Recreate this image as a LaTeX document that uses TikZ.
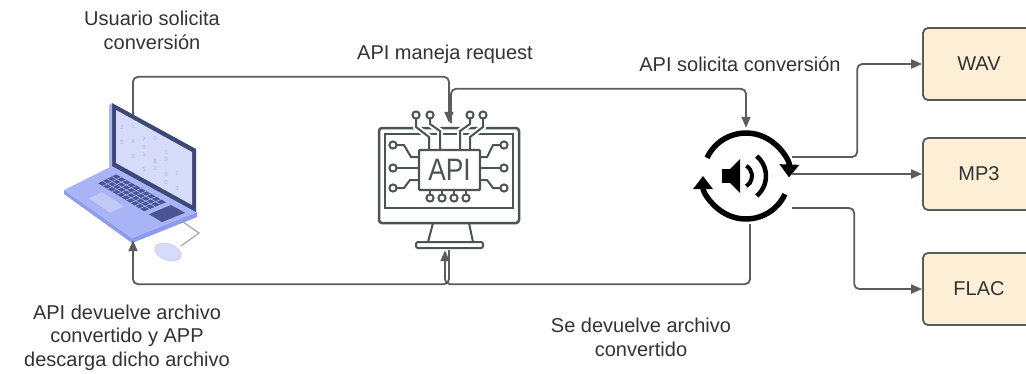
\documentclass[tikz,border=0pt]{standalone}
\usepackage{fontspec}
\setmainfont{Liberation Sans}
\usetikzlibrary{arrows.meta,calc}
\definecolor{ink}{HTML}{333333}
\definecolor{wire}{HTML}{5C5C5C}
\definecolor{boxfill}{HTML}{FCEFD5}
\definecolor{boxedge}{HTML}{5A5A5A}
\definecolor{slate}{HTML}{4B5353}
\definecolor{lid}{HTML}{3C4878}
\definecolor{screen}{HTML}{D5DBF8}
\definecolor{deck}{HTML}{A8B4F6}
\definecolor{deckside}{HTML}{8E9BEA}
\definecolor{keys}{HTML}{4A5593}
\definecolor{digit}{HTML}{A9B5EF}
\begin{document}
\begin{tikzpicture}[x=1pt,y=-1pt,
  conn/.style={draw=wire,line width=1.8pt,rounded corners=5pt,-{Triangle[length=11pt,width=9pt]}},
  label/.style={text=ink,font=\fontsize{20}{23.5}\selectfont,align=center,inner sep=0pt},
  fmtbox/.style={draw=boxedge,line width=1.8pt,fill=boxfill,rounded corners=5pt,
    minimum width=112pt,minimum height=72pt,font=\fontsize{20}{24}\selectfont,text=ink,inner sep=0pt},
  icon/.style={inner sep=0pt,draw=none},
  trace/.style={draw=slate,line width=2pt},
  halo/.style={draw=white,line width=6pt},
]
\useasboundingbox (0,0) rectangle (1026,373);
\clip (0,0) rectangle (1026,373);
\fill[white] (0,0) rectangle (1026,373);

% ---------- laptop ----------
\node[icon,minimum width=140pt,minimum height=125pt] (laptop) at (133,177.5) {};
\fill[deckside] (64,190) -- (132,238) -- (197,212) -- (197,217) -- (132,243) -- (64,194) -- cycle;
\fill[deck] (112,166) -- (197,212) -- (132,238) -- (64,190) -- cycle;
\fill[lid] (112,103) -- (196,149) -- (196,212) -- (112,166) -- cycle;
\fill[deck] (109,105) -- (112,103) -- (112,166) -- (109,168) -- cycle;
\fill[screen] (116,110) -- (192,152) -- (192,205) -- (116,163) -- cycle;
\coordinate (K1) at (116.2,174.4);
\coordinate (K2) at (166,202.2);
\coordinate (K3) at (144.3,211.3);
\coordinate (K4) at (98.2,183.2);
\fill[keys] (K1) -- (K2) -- (K3) -- (K4) -- cycle;
\foreach \f in {0.1,0.2,0.3,0.4,0.5,0.6,0.7,0.8,0.9}
  \draw[deck,line width=0.6pt] ($(K1)!\f!(K2)$) -- ($(K4)!\f!(K3)$);
\foreach \g in {0.25,0.5,0.75}
  \draw[deck,line width=0.6pt] ($(K1)!\g!(K4)$) -- ($(K2)!\g!(K3)$);
\fill[keys] (171,205) -- (185,212.8) -- (162,222.1) -- (148.9,214.2) -- cycle;
\fill[screen!55!deck] (101.9,192.2) -- (124.3,206.4) -- (110,212.6) -- (88.8,198.3) -- cycle;
% digits on the screen
\foreach \i/\j/\d in {0/1/1,0/3/0,1/0/2,1/2/7,1/4/1,2/1/9,2/2/0,2/4/3,3/0/5,3/2/1,3/3/8,3/5/7,4/1/0,4/3/2,4/4/9,5/2/1,5/4/0,5/5/3}
  \node[inner sep=0pt,text=digit,font=\fontsize{6}{6}\selectfont] at (122+11*\j, 120+6.2*\j+7.5*\i) {\d};
% mouse and cable
\draw[gray!70,line width=1.2pt] (183,222) -- (199,233) -- (181,246);
\fill[screen,draw=deck!70!white,line width=0.6pt,rotate around={-20:(168,252)}] (168,252) ellipse [x radius=14, y radius=8];

% ---------- API monitor ----------
\node[icon,minimum width=140pt,minimum height=127pt] (api) at (448,186.5) {};
\draw[slate,line width=2.5pt,rounded corners=3pt] (379,128) rectangle (519,223);
\draw[slate,line width=2pt] (385,134) rectangle (513,208);
\foreach \p in {
  {(416,119) -- (416,127) -- (429,137) -- (429,150)},
  {(430,119) -- (430,124) -- (440,131) -- (440,150)},
  {(470,119) -- (470,124) -- (460,131) -- (460,150)},
  {(483,119) -- (483,127) -- (470,137) -- (470,150)}}
  { \draw[halo] \p; }
\draw[trace] (416,119) -- (416,127) -- (429,137) -- (429,150);
\draw[trace] (430,119) -- (430,124) -- (440,131) -- (440,150);
\draw[trace] (470,119) -- (470,124) -- (460,131) -- (460,150);
\draw[trace] (483,119) -- (483,127) -- (470,137) -- (470,150);
\foreach \x in {416,430,470,483} \draw[trace] (\x,115) circle[radius=3.6];
\draw[trace] (396.6,145) -- (404,145) -- (411,157) -- (419,157);
\draw[trace] (396.6,168) -- (419,168);
\draw[trace] (396.6,188) -- (404,188) -- (410,180) -- (419,180);
\draw[trace] (500.4,145) -- (493,145) -- (487,157) -- (480,157);
\draw[trace] (500.4,168) -- (480,168);
\draw[trace] (500.4,188) -- (493,188) -- (487,180) -- (480,180);
\foreach \y in {145,168,188} {
  \draw[trace] (393,\y) circle[radius=3.6];
  \draw[trace] (504,\y) circle[radius=3.6];
}
\foreach \x in {430,442,454,466} {
  \draw[trace] (\x,190) -- (\x,194.4);
  \draw[trace] (\x,198) circle[radius=3.6];
}
\draw[slate,line width=2.2pt,rounded corners=1pt] (419,150) rectangle (480,190);
\node[inner sep=0pt,text=slate] (chip) at (449.5,170)
  {\scalebox{0.85}[1]{\fontsize{31}{31}\selectfont API}};
\draw[slate,line width=2pt] (433,223) -- (428,242);
\draw[slate,line width=2pt] (469,223) -- (473,242);
\draw[slate,line width=2pt,rounded corners=2pt] (416,242) rectangle (483,248);

% ---------- converter icon ----------
\node[icon,minimum width=92pt,minimum height=96pt] (conv) at (746,176) {};
\begin{scope}[shift={(746,176)},yscale=-1]
  \draw[line width=5.5pt,-{Triangle[length=13pt,width=19pt]}]
    (155:43) arc[start angle=155,end angle=-2,radius=43];
  \draw[line width=5.5pt,-{Triangle[length=13pt,width=19pt]}]
    (-25:43) arc[start angle=-25,end angle=-180,radius=43];
  \fill (-24,-7) rectangle (-16,7);
  \fill (-16,-7) -- (-6,-17) -- (-6,17) -- (-16,7) -- cycle;
  \draw[line width=4pt] ($(-6,0)+(-58:12)$) arc[start angle=-58,end angle=58,radius=12];
  \draw[line width=4.5pt] ($(-6,0)+(-50:26)$) arc[start angle=-50,end angle=50,radius=26];
\end{scope}

% ---------- output formats ----------
\node[fmtbox] (wav)  at (979,64)  {WAV};
\node[fmtbox] (mp3)  at (979,174) {MP3};
\node[fmtbox] (flac) at (979,289) {FLAC};

% ---------- connectors ----------
\draw[conn] (laptop.north) -- ++(0,-38) -| ([xshift=1pt]api.north);
\draw[conn] ([xshift=3pt]api.north) -- ++(0,-34) -| (conv.north);
\draw[conn] ([xshift=4pt]conv.south) -- ++(0,60) -| ([xshift=-3pt]api.south);
\draw[conn] ([xshift=1pt]api.south) -- ++(0,34) -| (laptop.south);
\draw[conn] ($(conv.east)+(0,-19)$) -- ++(65,0) |- (wav.west);
\draw[conn] (conv.east |- mp3.west) -- (mp3.west);
\draw[conn] ($(conv.east)+(0,32)$) -- ++(62,0) |- (flac.west);

% ---------- labels (base anchor = baseline of the last line) ----------
\node[label,anchor=base] (lblUser) at (152,49) {Usuario solicita\\conversión};
\node[label,anchor=base] (lblReq) at (445,59) {API maneja request};
\node[label,anchor=base] (lblConv) at (740,71) {API solicita conversión};
\node[label,anchor=base] (lblBack) at (127,366) {API devuelve archivo\\convertido y APP\\descarga dicho archivo};
\node[label,anchor=base] (lblFile) at (641,356) {Se devuelve archivo\\convertido};
\end{tikzpicture}
\end{document}
